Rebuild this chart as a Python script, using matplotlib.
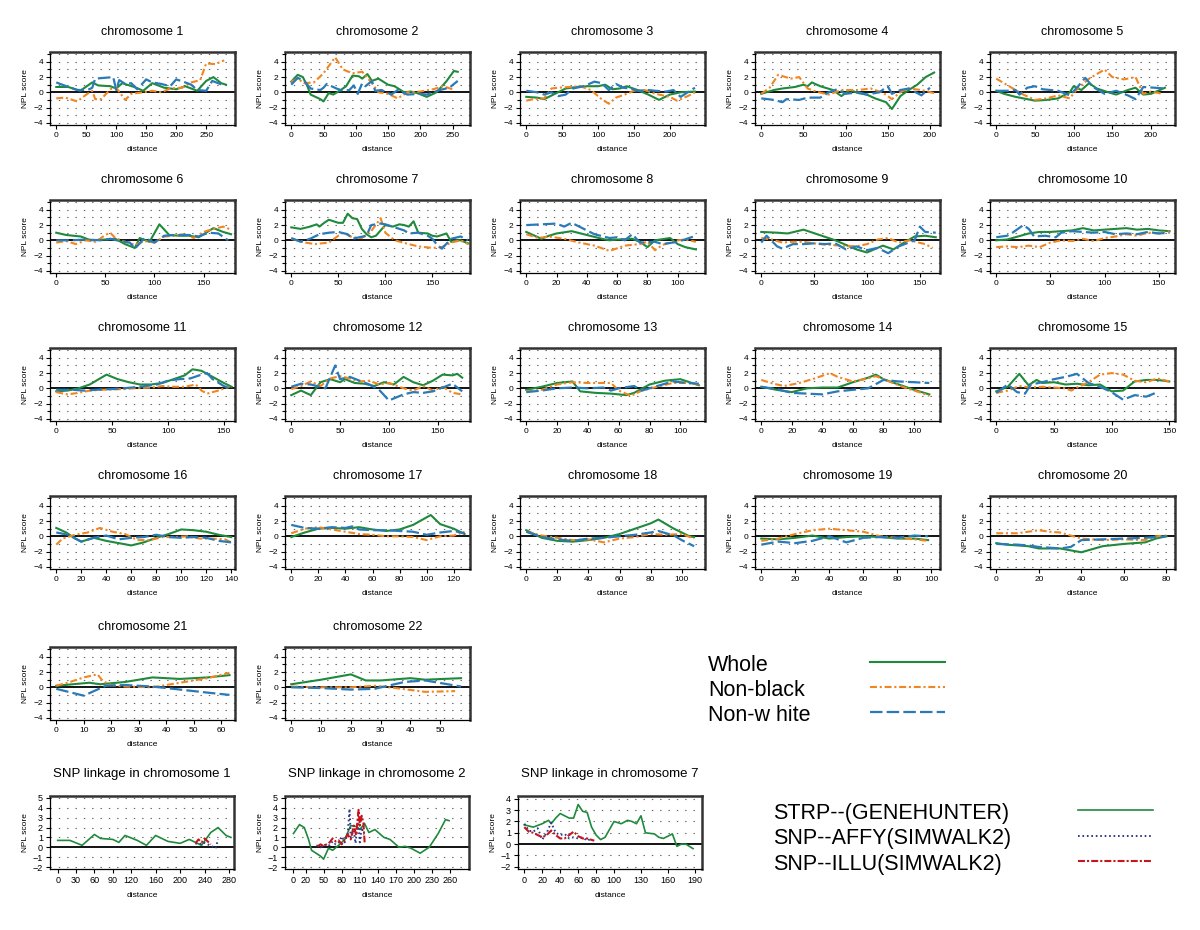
import numpy as np
import matplotlib.pyplot as plt
from matplotlib.ticker import MultipleLocator

plt.rcParams['font.family'] = ['Liberation Sans', 'DejaVu Sans']
plt.rcParams['lines.scale_dashes'] = False

GREEN = '#1f8a3c'
ORANGE = '#f2851f'
BLUE = '#2a7ab8'
RED = '#c4161c'
NAVY = '#2d3a8c'

# ---- data: (positions in cM, NPL scores) per chromosome and group ----
chr1_whole = ([0, 20, 40, 60, 70, 90, 100, 110, 130, 145, 160, 180, 200, 215, 235, 250, 262, 275, 283],
              [0.7, 0.7, 0.2, 1.3, 0.9, 0.8, 0.5, 1.2, 0.7, 0.2, 1.2, 0.6, 0.4, 0.8, 0.2, 1.5, 2.0, 1.2, 1.0])
chr1_nonblack = ([0, 15, 35, 50, 60, 65, 75, 90, 100, 115, 125, 145, 160, 175, 190, 210, 225, 240, 250, 265, 280],
                 [-0.8, -0.7, -1.2, -0.3, 0.2, -0.9, -0.9, 0.4, 0.6, -1.0, -0.2, 0.0, 0.2, 0.0, 0.5, 0.6, 1.3, 1.6, 3.8, 3.7, 4.2])
chr1_nonwhite = ([0, 20, 35, 45, 55, 60, 65, 80, 95, 100, 105, 115, 125, 135, 150, 160, 175, 190, 200, 215, 225, 235, 250, 260, 280],
                 [1.3, 0.7, 0.3, 0.3, 0.4, 0.6, 1.8, 1.9, 2.0, 0.3, 1.6, 1.1, 1.2, 0.4, 1.7, 1.3, 1.1, 0.8, 1.7, 1.3, 1.0, 0.3, 0.2, 1.5, 0.9])

chr2_whole = ([0, 10, 18, 25, 30, 45, 50, 58, 65, 75, 85, 95, 105, 110, 118, 125, 135, 150, 160, 175, 185, 195, 210, 225, 240, 252, 258],
              [1.4, 2.3, 2.0, 0.8, -0.3, -0.9, -1.2, -0.1, -0.3, 0.2, 0.8, 2.2, 2.1, 1.8, 2.4, 1.5, 1.8, 1.0, 0.8, 0.0, 0.1, -0.1, -0.6, 0.0, 1.4, 2.8, 2.7])
chr2_nonblack = ([0, 10, 20, 35, 50, 68, 80, 95, 110, 125, 135, 150, 165, 180, 200, 220, 235, 250],
                 [1.4, 1.8, 1.2, 1.3, 2.5, 4.6, 3.0, 2.5, 2.7, 1.2, 0.0, -0.2, -0.8, 0.0, 0.1, 0.4, 0.8, 0.4])
chr2_nonwhite = ([0, 10, 20, 30, 45, 50, 55, 70, 80, 90, 97, 103, 110, 115, 125, 130, 140, 155, 165, 180, 200, 210, 230, 245, 258],
                 [1.0, 1.9, 1.5, 0.5, 0.3, 0.6, 1.1, 0.5, 0.2, 0.3, 0.9, -0.2, 1.2, 0.8, 1.5, 0.2, 0.3, -0.3, 0.3, -0.3, -0.2, -0.3, 0.3, 0.6, 1.5])

chr3_whole = ([0, 15, 25, 40, 55, 70, 85, 100, 110, 120, 130, 140, 155, 170, 185, 200, 215, 235],
              [-0.6, -0.7, -0.9, -0.2, 0.5, 0.7, 0.8, 0.8, 1.0, 0.4, 0.5, 0.8, 0.3, -0.3, -1.0, -0.3, 0.0, 0.1])
chr3_nonblack = ([0, 10, 25, 35, 45, 60, 75, 90, 105, 115, 125, 140, 150, 165, 180, 200, 210, 225, 235],
                 [-1.1, -0.9, -0.8, 0.5, 0.6, 0.7, 0.8, 0.3, -0.9, -1.5, -0.7, -0.2, 0.2, 0.3, -0.2, -0.6, -1.1, -0.5, 0.0])
chr3_nonwhite = ([0, 15, 25, 35, 45, 55, 65, 80, 95, 105, 115, 125, 135, 145, 155, 170, 180, 195, 205, 215, 225, 235],
                 [0.2, 0.0, -0.3, 0.0, -0.5, -0.3, 0.5, 0.8, 1.4, 1.2, 0.3, 1.1, 0.6, 0.5, 0.2, 0.3, 0.2, 0.1, 0.3, -0.6, 0.0, 0.6])

chr4_whole = ([0, 15, 25, 40, 50, 55, 60, 70, 85, 95, 105, 115, 125, 135, 148, 155, 165, 175, 185, 195, 205],
              [-0.2, 0.3, 0.5, 0.7, 1.0, 0.8, 1.3, 0.8, 0.3, -0.5, 0.3, -0.1, -0.3, -0.8, -1.3, -2.2, -0.5, 0.3, 1.0, 2.0, 2.6])
chr4_nonblack = ([0, 10, 20, 35, 45, 55, 65, 80, 95, 115, 130, 145, 155, 165, 175, 190, 205],
                 [-0.2, 0.6, 2.3, 1.8, 2.0, 0.5, 0.1, -0.3, 0.3, 0.3, 0.5, -0.1, -0.9, 0.0, 0.5, 0.3, -0.1])
chr4_nonwhite = ([0, 15, 25, 30, 45, 55, 70, 80, 90, 100, 115, 125, 140, 150, 155, 165, 175, 190, 200],
                 [-0.8, -1.0, -1.3, -0.9, -1.0, -0.7, -0.7, 0.0, 0.4, -0.2, 0.0, -0.3, 0.0, 0.8, -0.2, 0.3, 0.5, -0.4, 0.6])

chr5_whole = ([0, 10, 25, 40, 50, 65, 80, 95, 100, 110, 120, 130, 145, 155, 170, 180, 190, 200, 218],
              [0.2, -0.2, -0.6, -0.9, -1.1, -1.0, -0.8, 0.0, 0.8, 0.3, 1.2, 0.5, 0.0, -0.3, 0.3, 0.6, -0.3, -0.2, 0.6])
chr5_nonblack = ([0, 10, 20, 35, 50, 65, 80, 95, 105, 120, 130, 140, 150, 165, 180, 190, 200, 215],
                 [1.8, 1.2, 0.6, -0.3, -1.0, -0.8, -0.4, -0.8, 0.5, 1.8, 2.4, 3.0, 2.0, 1.7, 2.0, -0.2, 0.1, -0.2])
chr5_nonwhite = ([0, 15, 25, 30, 40, 50, 60, 70, 80, 95, 105, 115, 125, 140, 155, 170, 180, 190, 205, 218],
                 [0.2, 0.2, 0.3, -0.3, 0.6, 0.8, 0.4, 0.3, 0.2, -0.4, 0.7, 1.9, 0.7, -0.2, 0.2, -0.4, -0.9, 0.7, 0.6, 0.5])

chr6_whole = ([0, 10, 25, 35, 50, 60, 70, 80, 85, 95, 105, 115, 125, 135, 145, 160, 170, 178],
              [1.0, 0.7, 0.5, 0.0, 0.1, 0.2, -0.5, -1.0, 0.3, -0.2, 2.1, 0.7, 0.6, 0.6, 0.4, 1.6, 1.1, 0.8])
chr6_nonblack = ([0, 10, 20, 30, 40, 50, 55, 60, 70, 80, 90, 100, 110, 120, 130, 140, 150, 160, 170, 178],
                 [-0.3, -0.1, -0.5, 0.0, -0.2, 0.7, 1.0, 0.3, -0.2, -0.6, -0.1, -0.3, 0.5, 0.6, 0.8, 0.3, 1.1, 1.5, 1.8, 1.4])
chr6_nonwhite = ([0, 15, 30, 45, 55, 65, 75, 80, 90, 100, 110, 120, 135, 145, 155, 165, 175],
                 [0.0, 0.0, 0.1, 0.0, 0.2, -0.1, -0.3, -1.1, 0.3, -0.3, 0.6, 0.7, 0.7, 0.5, 1.0, 0.9, 0.0])

chr7_whole = ([0, 10, 20, 27, 30, 35, 40, 50, 55, 60, 65, 70, 75, 80, 85, 90, 100, 108, 115, 120, 125, 130, 135, 145, 150, 155, 160, 165, 170, 175, 180, 188],
              [1.7, 1.5, 1.8, 2.1, 1.8, 2.3, 2.7, 2.3, 2.3, 3.5, 2.9, 2.8, 1.5, 0.8, 0.4, 0.6, 2.0, 1.8, 2.1, 2.0, 1.8, 2.5, 1.0, 0.9, 0.6, 0.5, 0.7, 0.9, -0.2, 0.0, 0.0, -0.4])
chr7_nonblack = ([0, 15, 25, 40, 50, 55, 65, 75, 85, 95, 100, 110, 125, 135, 150, 160, 170, 180, 188],
                 [0.2, -0.3, -0.5, -0.3, 0.6, 1.0, 0.4, 0.3, 1.2, 2.9, 1.0, 0.0, -0.5, -0.8, -1.0, -0.9, -0.3, 0.0, -0.5])
chr7_nonwhite = ([0, 10, 20, 30, 40, 50, 60, 65, 80, 85, 95, 100, 110, 120, 125, 135, 145, 150, 155, 160, 170, 180, 188],
                 [0.3, -0.2, 0.2, 0.8, 1.0, 1.1, 0.8, 0.2, 0.6, 2.0, 2.2, 2.1, 1.7, 1.3, 0.9, 1.0, 0.6, 0.2, -0.6, -1.1, 0.2, 0.5, 0.0])

chr8_whole = ([0, 10, 15, 20, 30, 40, 50, 55, 60, 70, 75, 80, 85, 95, 100, 105, 112],
              [1.1, 0.2, 0.6, 0.9, 1.2, 0.7, 0.2, 0.0, 0.1, 0.2, -0.2, -0.9, 0.0, 0.3, -0.5, -0.9, -1.2])
chr8_nonblack = ([0, 8, 15, 25, 35, 45, 55, 65, 75, 80, 85, 90, 100, 105, 112],
                 [0.8, 0.3, 0.5, 0.2, -0.3, -0.7, -1.4, -0.7, -0.5, -0.2, -1.3, -0.6, 0.0, 0.1, -0.2])
chr8_nonwhite = ([0, 10, 20, 25, 30, 35, 45, 55, 60, 65, 70, 75, 85, 90, 100, 112],
                 [2.0, 2.1, 2.2, 1.8, 2.3, 1.8, 0.8, 0.3, 0.4, 0.0, 0.8, -0.3, -0.2, -0.5, -0.2, 0.6])

chr9_whole = ([0, 15, 25, 40, 55, 70, 80, 90, 100, 105, 115, 125, 135, 145, 155, 165],
              [1.1, 1.0, 0.9, 1.4, 0.7, 0.0, -0.6, -1.2, -1.6, -1.3, -0.7, -1.2, -0.3, 0.5, 0.6, 0.4])
chr9_nonblack = ([0, 10, 20, 30, 40, 55, 65, 75, 90, 100, 110, 120, 130, 140, 155, 162],
                 [0.3, 0.1, -0.3, -0.2, -0.2, -0.5, -0.6, -0.7, -0.8, -0.5, 0.1, 0.3, -0.3, 0.0, -0.5, -1.0])
chr9_nonwhite = ([0, 5, 15, 20, 30, 40, 50, 60, 70, 80, 90, 100, 110, 120, 130, 145, 150, 155, 165],
                 [-0.3, 0.6, -0.8, -1.1, -0.5, -0.5, -0.4, -0.5, -0.4, -1.2, -0.8, -1.3, -1.0, -1.7, -0.8, 0.0, 1.8, 1.1, 1.0])

chr10_whole = ([0, 10, 20, 30, 40, 50, 60, 70, 80, 90, 100, 110, 120, 130, 140, 150, 160],
               [0.0, 0.1, 0.5, 0.9, 1.1, 1.1, 1.2, 1.3, 1.6, 1.3, 1.4, 1.5, 1.6, 1.4, 1.5, 1.3, 1.2])
chr10_nonblack = ([0, 10, 20, 30, 40, 50, 60, 70, 80, 90, 100, 110, 120, 130, 140, 150, 160],
                  [-0.9, -0.8, -0.9, -0.7, -0.9, -0.3, 0.0, -0.1, 0.2, -0.1, 0.3, 0.5, 0.8, 0.6, 1.0, 0.9, 1.2])
chr10_nonwhite = ([0, 10, 15, 25, 30, 35, 45, 55, 60, 70, 80, 90, 100, 110, 120, 130, 140, 150, 160],
                  [0.4, 0.6, 1.0, 2.0, 1.5, 0.5, 0.6, 0.4, 1.0, 1.2, 1.1, 1.0, 1.1, 0.8, 0.9, 0.8, 1.1, 0.9, 1.0])

chr11_whole = ([0, 10, 20, 30, 45, 55, 65, 75, 85, 95, 105, 115, 122, 130, 140, 150, 157],
               [-0.4, -0.3, 0.0, 0.5, 1.8, 1.2, 0.8, 0.5, 0.5, 0.7, 1.2, 1.7, 2.5, 2.3, 1.5, 0.7, 0.2])
chr11_nonblack = ([0, 10, 20, 30, 40, 60, 70, 85, 95, 105, 115, 125, 130, 135, 145, 155],
                  [-0.5, -0.8, -0.6, -0.3, -0.2, -0.1, 0.0, 0.1, 0.3, 0.2, 0.2, 0.5, -0.3, -0.7, -0.3, 0.2])
chr11_nonwhite = ([0, 15, 25, 35, 50, 60, 75, 90, 100, 110, 120, 130, 135, 140, 150, 157],
                  [-0.2, -0.2, -0.3, -0.2, -0.1, 0.0, 0.2, 0.5, 1.0, 1.2, 1.3, 1.8, 2.0, 1.2, 0.3, -0.1])

chr12_whole = ([0, 10, 20, 30, 40, 50, 55, 65, 75, 85, 95, 105, 115, 125, 135, 145, 155, 165, 170, 175],
               [-0.9, -0.3, -0.9, 0.8, 1.2, 0.8, 1.2, 0.7, 0.6, 0.3, 0.8, 0.5, 1.5, 0.8, 0.4, 1.0, 1.8, 1.7, 1.9, 1.4])
chr12_nonblack = ([0, 10, 20, 25, 30, 40, 50, 60, 70, 80, 90, 100, 115, 125, 135, 145, 155, 165, 175],
                  [-0.1, 0.3, 0.9, 0.6, 0.3, 1.3, 1.6, 1.3, 0.9, 1.0, 0.5, 0.7, 0.0, -0.3, 0.3, -0.3, 0.2, -0.6, -0.8])
chr12_nonwhite = ([0, 10, 20, 35, 45, 50, 60, 70, 80, 90, 100, 115, 125, 135, 145, 155, 165, 175],
                  [0.2, 0.6, 0.5, 0.0, 3.0, 1.2, 1.5, 1.0, 0.5, -0.2, -1.6, -0.8, -0.5, -0.6, -0.4, 0.1, 0.6, -0.4])

chr13_whole = ([0, 10, 20, 30, 35, 45, 55, 65, 70, 80, 90, 100, 112],
               [-0.2, 0.2, 0.7, 0.9, -0.4, -0.6, -0.7, -0.9, -0.6, 0.5, 1.0, 1.2, 0.4])
chr13_nonblack = ([0, 10, 20, 30, 40, 55, 60, 68, 75, 85, 95, 105, 112],
                  [-0.4, -0.2, 0.5, 0.8, 0.7, 0.7, -0.3, -1.0, -0.3, 0.2, 0.7, 0.7, 0.5])
chr13_nonwhite = ([0, 10, 20, 30, 40, 50, 55, 60, 70, 75, 85, 95, 105, 112],
                  [-0.5, -0.3, 0.0, 0.1, 0.0, 0.1, -0.3, 0.0, 0.3, -0.3, 0.3, 0.9, 0.7, 0.6])

chr14_whole = ([0, 10, 20, 30, 40, 50, 60, 70, 75, 80, 90, 100, 110],
               [0.2, -0.2, -0.5, 0.0, 0.1, 0.1, 0.8, 1.4, 1.8, 1.2, 0.5, -0.2, -0.8])
chr14_nonblack = ([0, 8, 15, 25, 35, 45, 50, 60, 70, 75, 85, 95, 105, 110],
                  [1.1, 0.6, 0.3, 0.7, 1.3, 2.0, 1.5, 0.9, 1.3, 1.6, 0.8, 0.0, -0.6, -1.0])
chr14_nonwhite = ([0, 10, 20, 30, 40, 50, 60, 70, 80, 90, 100, 110],
                  [0.2, -0.1, -0.6, -0.7, -0.8, -0.4, -0.2, 0.0, 1.1, 0.9, 0.8, 0.7])

chr15_whole = ([0, 10, 20, 28, 35, 40, 50, 60, 70, 80, 90, 100, 110, 120, 130, 140, 150],
               [-0.4, 0.2, 1.9, 0.4, 1.1, 0.7, 0.8, 0.5, 0.6, 0.4, 0.5, -0.4, -0.3, 0.9, 1.1, 1.1, 0.9])
chr15_nonblack = ([0, 10, 20, 30, 40, 50, 60, 65, 70, 80, 90, 100, 110, 120, 130, 140, 150],
                  [-0.6, -0.3, 0.3, 0.1, 0.2, 0.1, 0.0, -0.3, 0.1, 0.8, 1.8, 2.0, 1.8, 1.0, 0.8, 1.3, 0.9])
chr15_nonwhite = ([0, 10, 18, 25, 30, 40, 50, 60, 70, 80, 90, 100, 110, 120, 130, 140],
                  [-0.6, 0.5, -0.5, -0.7, 0.5, 0.8, 1.2, 1.5, 1.9, 0.7, 0.2, -0.5, -1.5, -0.9, -1.1, -0.5])

chr16_whole = ([0, 8, 15, 20, 30, 40, 50, 60, 70, 80, 90, 100, 110, 120, 130, 140],
               [1.1, 0.5, -0.3, -0.7, -0.2, -0.6, -0.9, -1.2, -0.8, -0.2, 0.3, 0.9, 0.8, 0.6, 0.2, -0.1])
chr16_nonblack = ([0, 5, 15, 25, 35, 45, 55, 65, 75, 85, 95, 105, 115, 125, 135, 140],
                  [-1.1, -0.3, 0.2, 0.5, 1.1, 0.6, 0.3, -0.5, -0.5, -0.1, -0.1, 0.0, -0.3, -0.3, -0.4, -0.8])
chr16_nonwhite = ([0, 10, 20, 30, 40, 50, 60, 70, 80, 90, 100, 110, 120, 130, 140],
                  [0.5, 0.2, -0.7, -0.2, 0.1, -0.4, -0.2, -0.1, 0.2, -0.1, -0.2, -0.1, -0.2, -0.6, -0.8])

chr17_whole = ([0, 10, 20, 30, 40, 50, 60, 70, 80, 90, 103, 110, 120, 128],
               [-0.1, 0.5, 1.0, 1.1, 1.0, 1.2, 0.9, 0.7, 0.9, 1.5, 2.8, 1.6, 1.0, 0.3])
chr17_nonblack = ([0, 10, 20, 30, 40, 50, 60, 70, 80, 90, 100, 110, 120, 128],
                  [0.4, 1.0, 1.2, 0.9, 0.6, 0.3, 0.2, 0.0, 0.0, -0.1, -0.5, 0.0, 0.1, 0.6])
chr17_nonwhite = ([0, 10, 20, 30, 40, 45, 50, 60, 70, 80, 90, 100, 110, 120, 128],
                  [1.5, 1.1, 1.0, 1.2, 1.1, 1.3, 0.9, 0.8, 0.8, 0.7, 0.6, 0.2, 0.5, 0.7, 0.4])

chr18_whole = ([0, 10, 20, 30, 40, 50, 60, 70, 80, 85, 95, 105, 108],
               [0.8, -0.2, -0.6, -0.7, -0.5, -0.2, 0.3, 1.0, 1.7, 2.2, 1.0, 0.0, -0.1])
chr18_nonblack = ([0, 10, 20, 30, 40, 50, 60, 70, 80, 90, 100, 108],
                  [0.6, 0.1, -0.2, -0.5, -0.4, -0.8, -0.3, -0.1, 0.3, 0.2, 0.3, -0.3])
chr18_nonwhite = ([0, 10, 20, 30, 40, 50, 60, 70, 80, 85, 95, 100, 108],
                  [0.6, -0.1, -0.4, -0.6, -0.3, -0.2, 0.0, 0.2, 0.5, 0.7, 0.1, -0.5, -1.3])

chr19_whole = ([0, 10, 20, 30, 40, 50, 60, 70, 80, 90, 98],
               [-0.3, -0.4, -0.2, 0.1, -0.3, -0.1, 0.0, -0.1, -0.3, -0.3, -0.5])
chr19_nonblack = ([0, 10, 20, 30, 40, 50, 60, 70, 80, 90, 98],
                  [-0.6, -0.3, 0.3, 0.8, 1.0, 0.8, 0.6, 0.0, -0.2, -0.4, -0.6])
chr19_nonwhite = ([0, 10, 20, 30, 40, 50, 60, 70, 80, 90, 98],
                  [-1.1, -0.7, -0.9, -0.6, 0.0, -0.8, -0.2, -0.1, -0.2, 0.1, 0.0])

chr20_whole = ([0, 5, 10, 15, 20, 30, 40, 50, 60, 70, 75, 80],
               [-0.9, -1.1, -1.2, -1.3, -1.6, -1.6, -2.1, -1.3, -1.0, -0.8, -0.3, 0.0])
chr20_nonblack = ([0, 10, 20, 25, 30, 40, 50, 60, 70, 75, 80],
                  [0.4, 0.4, 0.8, 0.6, 0.5, -0.3, -0.5, -0.4, -0.5, 0.0, 0.1])
chr20_nonwhite = ([0, 10, 15, 20, 30, 35, 40, 50, 60, 70, 80],
                  [-1.0, -1.1, -1.2, -1.4, -1.6, -1.4, -0.5, -0.4, -0.3, -0.2, 0.0])

chr21_whole = ([0, 12, 16, 25, 35, 45, 55, 63], [0.2, 0.6, 0.4, 0.7, 1.3, 1.1, 1.3, 1.6])
chr21_nonblack = ([0, 5, 10, 15, 17, 20, 25, 35, 45, 55, 63],
                  [0.2, 0.7, 1.3, 1.7, 0.8, 0.3, 0.1, 0.0, 0.6, 1.2, 1.9])
chr21_nonwhite = ([0, 10, 18, 25, 35, 45, 55, 63], [-0.2, -1.1, 0.2, 0.3, 0.1, -0.3, -0.7, -1.0])

chr22_whole = ([0, 10, 20, 25, 30, 40, 45, 57], [0.4, 1.0, 1.7, 0.9, 0.9, 1.2, 1.0, 1.2])
chr22_nonblack = ([0, 10, 20, 28, 35, 45, 55], [0.1, 0.0, 0.0, 0.2, -0.1, -0.6, -0.5])
chr22_nonwhite = ([0, 10, 20, 28, 38, 45, 57], [0.0, -0.1, -0.3, -0.2, 0.7, 0.9, 0.1])

chromosomes = [
    (chr1_whole, chr1_nonblack, chr1_nonwhite), (chr2_whole, chr2_nonblack, chr2_nonwhite),
    (chr3_whole, chr3_nonblack, chr3_nonwhite), (chr4_whole, chr4_nonblack, chr4_nonwhite),
    (chr5_whole, chr5_nonblack, chr5_nonwhite), (chr6_whole, chr6_nonblack, chr6_nonwhite),
    (chr7_whole, chr7_nonblack, chr7_nonwhite), (chr8_whole, chr8_nonblack, chr8_nonwhite),
    (chr9_whole, chr9_nonblack, chr9_nonwhite), (chr10_whole, chr10_nonblack, chr10_nonwhite),
    (chr11_whole, chr11_nonblack, chr11_nonwhite), (chr12_whole, chr12_nonblack, chr12_nonwhite),
    (chr13_whole, chr13_nonblack, chr13_nonwhite), (chr14_whole, chr14_nonblack, chr14_nonwhite),
    (chr15_whole, chr15_nonblack, chr15_nonwhite), (chr16_whole, chr16_nonblack, chr16_nonwhite),
    (chr17_whole, chr17_nonblack, chr17_nonwhite), (chr18_whole, chr18_nonblack, chr18_nonwhite),
    (chr19_whole, chr19_nonblack, chr19_nonwhite), (chr20_whole, chr20_nonblack, chr20_nonwhite),
    (chr21_whole, chr21_nonblack, chr21_nonwhite), (chr22_whole, chr22_nonblack, chr22_nonwhite),
]

x_ticks = [
    [0, 50, 100, 150, 200, 250], [0, 50, 100, 150, 200, 250], [0, 50, 100, 150, 200],
    [0, 50, 100, 150, 200], [0, 50, 100, 150, 200], [0, 50, 100, 150], [0, 50, 100, 150],
    [0, 20, 40, 60, 80, 100], [0, 50, 100, 150], [0, 50, 100, 150], [0, 50, 100, 150],
    [0, 50, 100, 150], [0, 20, 40, 60, 80, 100], [0, 20, 40, 60, 80, 100], [0, 50, 100, 150],
    [0, 20, 40, 60, 80, 100, 120, 140], [0, 20, 40, 60, 80, 100, 120], [0, 20, 40, 60, 80, 100],
    [0, 20, 40, 60, 80, 100], [0, 20, 40, 60, 80], [0, 10, 20, 30, 40, 50, 60], [0, 10, 20, 30, 40, 50],
]
x_max = [298, 277, 249, 212, 231, 182, 190, 118, 169, 165, 160, 183, 116, 117, 155,
         143, 132, 115, 105, 84, 65, 60]

# SNP panels (chromosome 1, 2, 7)
snp1_affy = ([225, 232, 238, 245, 252, 258, 262], [0.4, 0.3, 0.5, 0.3, 0.1, -0.1, 0.8])
snp1_illu = ([225, 230, 235, 240, 245, 250], [0.4, 0.8, 0.5, 0.9, 0.6, 0.3])
snp2_affy = ([38, 45, 50, 55, 60, 65, 70, 75, 80, 85, 90, 93, 95, 100, 103, 107, 110, 113, 117],
             [0.2, 0.0, 0.2, 0.3, 0.2, 0.6, 0.3, 0.5, 1.1, 0.5, 1.4, 3.9, 1.0, 1.7, 0.4, 3.0, 0.5, 2.0, 1.3])
snp2_illu = ([40, 45, 50, 55, 60, 65, 70, 75, 80, 85, 90, 95, 100, 104, 108, 110, 113, 116, 118],
             [0.1, 0.3, 0.1, 0.3, 0.5, 0.9, 0.6, 0.7, 0.3, 0.8, 1.3, 0.8, 2.2, 1.2, 3.8, 2.2, 3.2, 2.5, 0.5])
snp7_affy = ([0, 5, 10, 15, 20, 25, 30, 35, 40, 45, 50, 55, 60, 65, 70, 75],
             [1.8, 1.2, 1.1, 1.4, 0.4, 1.0, 1.9, 1.0, 0.8, 0.9, 0.5, 0.6, 0.5, 0.6, 0.3, 0.5])
snp7_illu = ([0, 5, 10, 15, 20, 25, 30, 35, 40, 45, 50, 55, 60, 65, 70, 78],
             [1.5, 1.1, 1.0, 0.8, 0.6, 0.8, 1.2, 0.8, 0.5, 0.5, 0.8, 1.1, 0.7, 0.5, 0.5, 0.3])
snp_ticks = [[0, 30, 60, 90, 120, 160, 200, 240, 280],
             [0, 20, 50, 80, 110, 140, 170, 200, 230, 260],
             [0, 20, 40, 60, 80, 100, 130, 160, 190]]

group_names = ['Whole', 'Non-black', 'Non-w hite']
method_names = ['STRP--(GENEHUNTER)', 'SNP--AFFY(SIMWALK2)', 'SNP--ILLU(SIMWALK2)']

W, H = 1200, 930
fig = plt.figure(figsize=(W / 100, H / 100), dpi=100)


def add_ax(left, top, w, h):
    return fig.add_axes([left / W, 1 - (top + h) / H, w / W, h / H])


def style(ax, ylo, yhi, grid_vals, xlabel_size, tick_size):
    for s in ax.spines.values():
        s.set_linewidth(0.9)
    ax.spines['top'].set_linewidth(1.8)
    ax.spines['right'].set_linewidth(1.8)
    ax.spines['top'].set_color('#333333')
    ax.spines['right'].set_color('#333333')
    for g in grid_vals:
        if g != 0:
            ax.axhline(g, color='#666666', lw=0.8, ls=(0, (1, 5)), zorder=0)
    ax.axhline(0, color='black', lw=1.3, zorder=1)
    ax.set_ylim(ylo, yhi)
    ax.tick_params(axis='both', which='major', labelsize=tick_size, length=3, width=0.8, direction='out', pad=2)
    ax.tick_params(axis='y', which='minor', length=2, width=0.8)
    ax.set_xlabel('distance', fontsize=xlabel_size, labelpad=5)
    ax.set_ylabel('NPL score', fontsize=xlabel_size, labelpad=3)


styles = [dict(color=GREEN, lw=1.5, ls='-'),
          dict(color=ORANGE, lw=1.5, dashes=[5, 2, 1.5, 2]),
          dict(color=BLUE, lw=1.6, dashes=[9, 3])]

row_tops = [52, 200, 348, 496, 647]
for i, groups in enumerate(chromosomes):
    r, c = divmod(i, 5)
    ax = add_ax(50 + 235 * c, row_tops[r], 185, 73)
    style(ax, -4.3, 5.3, range(-4, 6), 6, 6)
    for (xs, ys), st in zip(groups, styles):
        ax.plot(xs, ys, **st, zorder=3)
    ax.set_xticks(x_ticks[i])
    ax.set_xlim(-0.035 * x_max[i], x_max[i])
    ax.set_yticks([-4, -2, 0, 2, 4])
    ax.yaxis.set_minor_locator(MultipleLocator(1))
    ax.set_title('chromosome %d' % (i + 1), fontsize=9, pad=12)

# SNP panels
snp_sets = [(chr1_whole, snp1_affy, snp1_illu), (chr2_whole, snp2_affy, snp2_illu),
            (chr7_whole, snp7_affy, snp7_illu)]
snp_names = [1, 2, 7]
snp_ylims = [(-2.2, 5.2), (-2.2, 5.2), (-2.2, 4.25)]
snp_xlims = [(-12.5, 288), (-14, 291), (-7, 198)]
snp_lefts = [50, 285, 518]
snp_styles = [dict(color=GREEN, lw=1.2, ls='-'),
              dict(color=NAVY, lw=1.4, dashes=[1.2, 2]),
              dict(color=RED, lw=1.5, dashes=[5, 1.5, 1.5, 1.5])]
for k, sets in enumerate(snp_sets):
    ax = add_ax(snp_lefts[k], 796, 184, 73)
    lo, hi = snp_ylims[k]
    style(ax, lo, hi, range(-2, int(hi) + 1), 6, 6.5)
    for (xs, ys), st in zip(sets, snp_styles):
        ax.plot(xs, ys, **st, zorder=3)
    ax.set_xticks(snp_ticks[k])
    ax.set_xlim(*snp_xlims[k])
    ax.set_yticks(range(-2, int(hi) + 1))
    ax.set_title('SNP linkage in chromosome %d' % snp_names[k], fontsize=9.5, pad=14)

# legends drawn as text + sample lines on a full-figure overlay
lax = fig.add_axes([0, 0, 1, 1])
lax.set_xlim(0, W)
lax.set_ylim(H, 0)
lax.axis('off')
for j, name in enumerate(group_names):
    y = 665 + 25 * j
    lax.text(708, y, name, fontsize=15.5, va='center', ha='left')
    lax.plot([870, 945], [y - 3, y - 3], **styles[j])
for j, name in enumerate(method_names):
    y = 813 + 25.5 * j
    lax.text(773, y, name, fontsize=15.5, va='center', ha='left')
    lax.plot([1078, 1153], [y - 3, y - 3], **snp_styles[j])

fig.savefig('out.png', dpi=100)
